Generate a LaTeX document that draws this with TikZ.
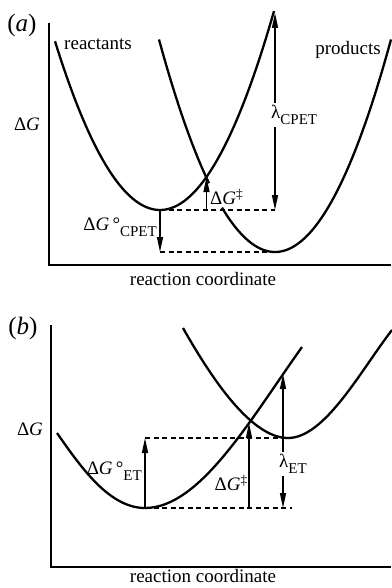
\documentclass[tikz,border=0pt]{standalone}
\usepackage{fontspec}
\setmainfont{Liberation Serif}
\usetikzlibrary{arrows.meta}
\newcommand\lowsub[1]{\raisebox{-0.32em}{\fontsize{15}{15}\selectfont #1}}
\newcommand\dG{Δ\textit{G}}
\begin{document}
\begin{tikzpicture}[x=1pt,y=-1pt,
  curve/.style={line width=2.3pt},
  axisline/.style={line width=2pt},
  arr/.style={line width=1.4pt,-{Triangle[length=15pt,width=6pt]}},
  dblarr/.style={line width=1.4pt,{Triangle[length=15pt,width=6pt]}-{Triangle[length=15pt,width=6pt]}},
  dashline/.style={line width=1.5pt,dash pattern=on 5pt off 3.5pt},
  lbl/.style={font=\fontsize{19}{22}\selectfont,inner sep=1pt},
  biglbl/.style={font=\fontsize{25}{28}\selectfont,inner sep=0pt}]
\useasboundingbox (0,0) rectangle (391,588);

% ---------------- panel (a) ----------------
\node[biglbl] (la) at (22,25) {(\textit{a})};
\coordinate (aTop) at (49,23);
\coordinate (aO) at (49,265);
\coordinate (aEnd) at (391,265);
\draw[axisline] (aTop) -- (aO) -- (aEnd);

\draw[curve] plot[domain=55:274,samples=80] (\x,{210-0.0153*(\x-160)^2});
\draw[curve] plot[domain=159:209,samples=30] (\x,{252-0.0158*(\x-275)^2});
\draw[curve] plot[domain=222:391,samples=80] (\x,{252-0.0158*(\x-275)^2});

\coordinate (aRmin) at (160,210);
\coordinate (aPmin) at (270,252);
\coordinate (aRlow) at (160,252);
\coordinate (aLamBot) at (275,210);
\coordinate (aLamTop) at (275,13);
\coordinate (aCross) at (206.5,177);
\coordinate (aCrossBase) at (206.5,210);

\draw[dashline] (aRmin) -- (aLamBot);
\draw[dashline] (aRlow) -- (aPmin);
\draw[arr] (aRmin) -- (aRlow);
\draw[arr] (aCrossBase) -- (aCross);
\draw[dblarr] (aLamTop) -- (aLamBot);

\node[lbl,fill=white,anchor=west,inner sep=2pt] (aLam) at (269,115) {λ\lowsub{CPET}};
\node[lbl,anchor=west] (aDGd) at (209,197) {\dG\textsuperscript{‡}};
\node[lbl,anchor=east] (aDGo) at (158,227) {\dG\,°\lowsub{CPET}};
\node[lbl] (aReact) at (98,44) {reactants};
\node[lbl] (aProd) at (348,50) {products};
\node[lbl] (aY) at (27,124) {\dG};
\node[lbl] (aX) at (203,279) {reaction coordinate};

% ---------------- panel (b) ----------------
\node[biglbl] (lb) at (23,328) {(\textit{b})};
\coordinate (bTop) at (51,325);
\coordinate (bO) at (51,567);
\coordinate (bEnd) at (391,567);
\draw[axisline] (bTop) -- (bO) -- (bEnd);

\draw[curve] (57,433) .. controls (82,469) and (110,508) .. (145,508)
  .. controls (200,508) and (250,420) .. (302,347);
\draw[curve] (183,328) .. controls (213,381) and (252,438) .. (288,438)
  .. controls (325,438) and (361,370) .. (392,330);

\coordinate (bRmin) at (145,508);
\coordinate (bRup) at (145,438);
\coordinate (bUpEnd) at (283,438);
\coordinate (bLowEnd) at (292,508);
\coordinate (bCross) at (249,423);
\coordinate (bCrossBase) at (249,508);
\coordinate (bLamTop) at (283,374);
\coordinate (bLamBot) at (283,508);

\draw[dashline] (bRup) -- (bUpEnd);
\draw[dashline] (bRmin) -- (bLowEnd);
\draw[arr] (bRmin) -- (bRup);
\draw[arr] (bCrossBase) -- (bCross);
\draw[dblarr] (bLamTop) -- (bLamBot);

\node[lbl,fill=white,anchor=west,inner sep=2pt] (bLam) at (277,464) {λ\lowsub{ET}};
\node[lbl,anchor=east] (bDGd) at (249,483) {\dG\textsuperscript{‡}};
\node[lbl,anchor=east] (bDGo) at (143,471) {\dG\,°\lowsub{ET}};
\node[lbl] (bY) at (30,429) {\dG};
\node[lbl] (bX) at (203,576) {reaction coordinate};
\end{tikzpicture}
\end{document}
